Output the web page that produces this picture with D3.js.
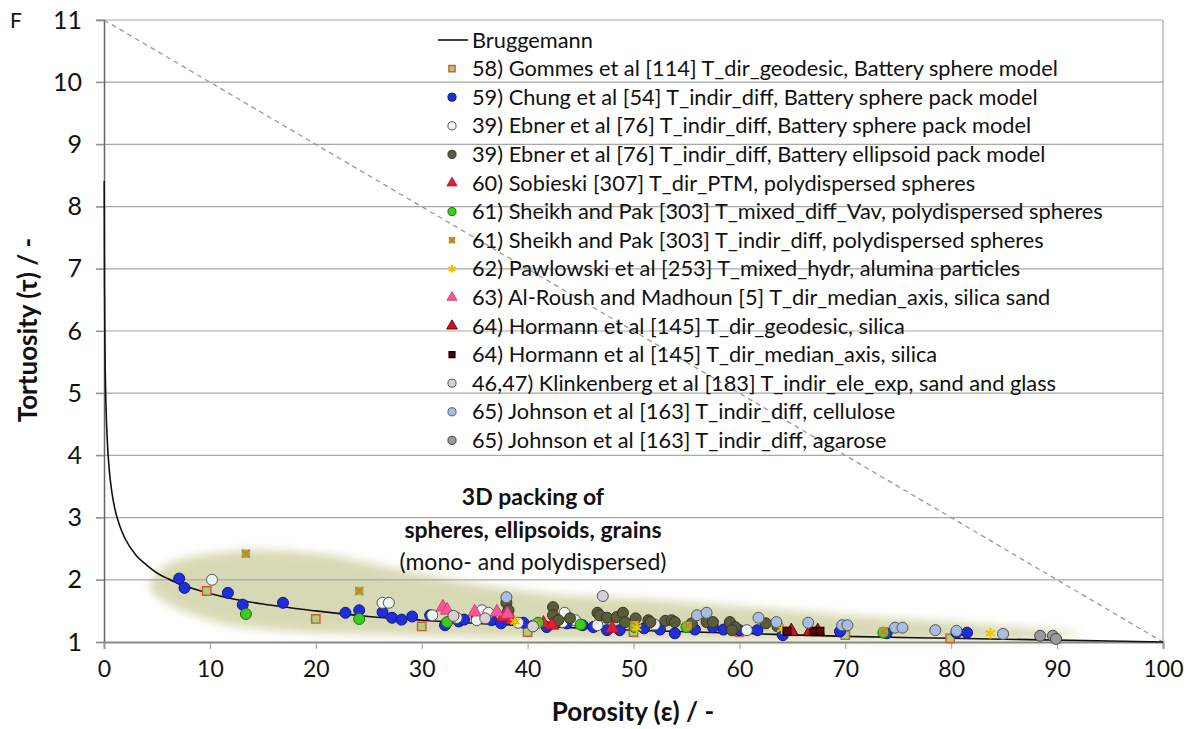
<!DOCTYPE html>
<html><head><meta charset="utf-8">
<script src="https://cdn.jsdelivr.net/npm/d3@7"></script>
<style>body{margin:0;background:#fff}svg{display:block}</style>
</head><body>
<svg id="c" width="1197" height="729"></svg>
<script>
// ---------- DATA ----------
const xTicks = [0,10,20,30,40,50,60,70,80,90,100];
const yTicks = [1,2,3,4,5,6,7,8,9,10,11];
// Bruggemann curve (porosity %, tortuosity)
const bruggemann = [[0.02,8.41],[0.05,6.69],[0.1,5.62],[0.2,4.73],[0.3,4.27],[0.5,3.76],[0.75,3.40],[1,3.16],[1.5,2.86],[2,2.66],[3,2.40],[4,2.24],[5,2.11],[6,2.02],[7,1.94],[8,1.88],[10,1.78],[12,1.70],[15,1.61],[20,1.50],[25,1.41],[30,1.35],[40,1.26],[50,1.19],[60,1.14],[70,1.09],[80,1.06],[90,1.03],[100,1.00]];
const diagonal = [[0,11],[100,1]];
// shaded region outline (porosity, tortuosity)
const region = [[4.3,1.92],[5.8,2.24],[9.1,2.40],[14.7,2.48],[21.3,2.40],[28,2.16],[35.5,1.92],[43,1.76],[51.6,1.68],[61,1.56],[70.4,1.43],[79.9,1.32],[89.3,1.19],[92.2,1.11],[84.6,1.03],[65.7,1.03],[46.8,1.03],[28,1.11],[18.5,1.16],[11.9,1.27],[7.2,1.51],[4.8,1.76]];
const annotation = ["3D packing of","spheres, ellipsoids, grains","(mono- and polydispersed)"];

const gommes = [[9.7,1.82],[20,1.37],[30,1.25],[40,1.16],[50,1.16],[60,1.16],[70,1.11],[79.9,1.06]];
const chung = [[7.1,2.02],[7.6,1.87],[11.7,1.79],[13.1,1.6],[16.9,1.63],[22.8,1.47],[24.1,1.51],[26.3,1.48],[27.2,1.39],[28.1,1.36],[29.1,1.41],[30.8,1.43],[32.2,1.27],[33.5,1.33],[34,1.36],[35.2,1.39],[36.6,1.35],[37.5,1.3],[39.6,1.31],[40.5,1.26],[41.8,1.24],[43.7,1.3],[45.2,1.27],[46.2,1.24],[47.5,1.19],[48.7,1.19],[51,1.22],[52.5,1.2],[53.9,1.14],[55.8,1.2],[57.5,1.24],[58.5,1.2],[60,1.19],[61.7,1.19],[64.1,1.11],[69.5,1.17],[73.9,1.14],[80.5,1.15],[81.5,1.15]];
const ebnerSphere = [[10.2,2.0],[26.3,1.63],[26.9,1.63],[31,1.43],[33.3,1.39],[35.2,1.35],[35.7,1.51],[36.3,1.47],[39.1,1.31],[43.3,1.32],[43.5,1.47],[44.5,1.35],[46.6,1.27],[52,1.28],[60.7,1.19]];
const ebnerEllipsoid = [[38,1.63],[38.2,1.51],[42.4,1.56],[42.4,1.43],[42.9,1.35],[44,1.38],[46.6,1.47],[46.8,1.43],[47.5,1.39],[48.4,1.40],[49,1.47],[49.2,1.32],[50.2,1.38],[51.4,1.35],[51.6,1.32],[53,1.34],[53.6,1.35],[53.9,1.32],[55.5,1.3],[56.9,1.32],[57.5,1.32],[59.1,1.32],[59.6,1.24],[59.3,1.19],[62.5,1.3],[63.6,1.25]];
const sobieski = [[37.7,1.40],[38.5,1.36],[41.5,1.30],[42.3,1.27],[48,1.22]];
const sheikhVav = [[13.4,1.45],[24.1,1.37],[32.4,1.32],[41,1.31],[45,1.28],[50.1,1.24],[55,1.24],[73.6,1.15]];
const sheikhIndir = [[13.4,2.42],[24.1,1.82],[40.8,1.29],[50.1,1.27],[55.1,1.26],[73.6,1.17]];
const pawlowski = [[38.8,1.33],[50.3,1.23],[64,1.21],[83.7,1.14]];
const alRoush = [[32,1.56],[32.4,1.51],[35,1.48],[37.1,1.48],[38.1,1.45]];
const hormannGeo = [[64.9,1.17],[66.7,1.17],[67.4,1.17]];
const hormannMed = [[64.5,1.17],[67,1.17],[67.6,1.17]];
const klinkenberg = [[33,1.42],[36,1.38],[40.5,1.25],[47.1,1.74]];
const johnsonCell = [[38,1.72],[56,1.43],[56.9,1.47],[61.8,1.39],[63.5,1.32],[66.5,1.31],[69.7,1.27],[70.2,1.27],[74.7,1.23],[75.4,1.23],[78.5,1.19],[80.5,1.18],[84.9,1.13]];
const johnsonAgar = [[88.4,1.10],[89.6,1.10],[89.9,1.05]];

const legendLabels = ["Bruggemann",
 "58) Gommes et al [114] T_dir_geodesic, Battery sphere model",
 "59) Chung et al [54] T_indir_diff, Battery sphere pack model",
 "39) Ebner et al [76] T_indir_diff, Battery sphere pack model",
 "39) Ebner et al [76] T_indir_diff, Battery ellipsoid pack model",
 "60) Sobieski [307] T_dir_PTM, polydispersed spheres",
 "61) Sheikh and Pak [303] T_mixed_diff_Vav, polydispersed spheres",
 "61) Sheikh and Pak [303] T_indir_diff, polydispersed spheres",
 "62) Pawlowski et al [253] T_mixed_hydr, alumina particles",
 "63) Al-Roush and Madhoun [5] T_dir_median_axis, silica sand",
 "64) Hormann et al [145] T_dir_geodesic, silica",
 "64) Hormann et al [145] T_dir_median_axis, silica",
 "46,47) Klinkenberg et al [183] T_indir_ele_exp, sand and glass",
 "65) Johnson et al [163] T_indir_diff, cellulose",
 "65) Johnson et al [163] T_indir_diff, agarose"];

// ---------- STYLES ----------
const series = [
 {data:gommes, sym:"square", fill:"#9fd67a", stroke:"#e0503a", size:70},
 {data:chung, sym:"circle", fill:"#1f2fd8", stroke:"#14148a", size:95},
 {data:ebnerSphere, sym:"circle", fill:"#eef4f2", stroke:"#555", size:95},
 {data:ebnerEllipsoid, sym:"circle", fill:"#5b5c3c", stroke:"#333322", size:95},
 {data:sobieski, sym:"triangle", fill:"#e0203a", stroke:"#a01020", size:80},
 {data:sheikhVav, sym:"circle", fill:"#3ecb1e", stroke:"#1d6f10", size:95},
 {data:sheikhIndir, sym:"squarex", fill:"#5ed04a", stroke:"#f07020", size:70},
 {data:pawlowski, sym:"asterisk", fill:"none", stroke:"#f2c400", size:80},
 {data:alRoush, sym:"triangle", fill:"#f45a9a", stroke:"#d03070", size:80},
 {data:hormannGeo, sym:"triangle", fill:"#d0101a", stroke:"#300000", size:90},
 {data:hormannMed, sym:"square", fill:"#600000", stroke:"#100000", size:60},
 {data:klinkenberg, sym:"circle", fill:"#d9cfd6", stroke:"#555", size:95},
 {data:johnsonCell, sym:"circle", fill:"#a9bde0", stroke:"#556", size:95},
 {data:johnsonAgar, sym:"circle", fill:"#9a9a9a", stroke:"#444", size:95}
];

const svg = d3.select("#c");
const x = d3.scaleLinear().domain([0,100]).range([104,1163]);
const y = d3.scaleLinear().domain([1,11]).range([642,20]);
const FONT = "Lato, 'Open Sans', sans-serif";

// defs
const defs = svg.append("defs");
defs.append("filter").attr("id","blur").attr("x","-20%").attr("y","-50%").attr("width","140%").attr("height","200%")
  .append("feGaussianBlur").attr("stdDeviation",5);

// shaded region
svg.append("path").datum(region)
  .attr("d", d3.line().x(d=>x(d[0])).y(d=>y(d[1])).curve(d3.curveCardinalClosed.tension(0.3)))
  .attr("fill","#c9cb98").attr("opacity",0.72).attr("filter","url(#blur)");

// gridlines
svg.append("g").selectAll("line").data(yTicks.slice(1)).join("line")
  .attr("x1",96).attr("x2",1163).attr("y1",d=>y(d)).attr("y2",d=>y(d))
  .attr("stroke","#a8a8a8").attr("stroke-width",1.2);
// right border
svg.append("line").attr("x1",1163).attr("x2",1163).attr("y1",y(11)).attr("y2",y(1)).attr("stroke","#a8a8a8").attr("stroke-width",1.2);

// axes
const yAxis = svg.append("g").attr("transform","translate(104,0)")
  .call(d3.axisLeft(y).tickValues(yTicks).tickSize(8).tickPadding(14).tickFormat(d3.format("d")));
yAxis.select(".domain").attr("stroke","#666").attr("stroke-width",1.5);
yAxis.selectAll(".tick line").attr("stroke","#888");
yAxis.selectAll("text").attr("font-family",FONT).attr("font-size",25).attr("fill","#111");
const xAxis = svg.append("g").attr("transform","translate(0,642)")
  .call(d3.axisBottom(x).tickValues(xTicks).tickSize(7).tickPadding(12).tickFormat(d3.format("d")));
xAxis.select(".domain").attr("stroke","#888").attr("stroke-width",2);
xAxis.selectAll(".tick line").attr("stroke","#999");
xAxis.selectAll("text").attr("font-family",FONT).attr("font-size",23).attr("fill","#111");

// diagonal dashed line
svg.append("path").datum(diagonal)
  .attr("d", d3.line().x(d=>x(d[0])).y(d=>y(d[1])))
  .attr("stroke","#999").attr("stroke-width",1.3).attr("stroke-dasharray","5,4").attr("fill","none");

// Bruggemann
svg.append("path").datum(bruggemann)
  .attr("d", d3.line().x(d=>x(d[0])).y(d=>y(d[1])).curve(d3.curveMonotoneX))
  .attr("stroke","#111").attr("stroke-width",1.6).attr("fill","none");

// marker drawing
function drawMarker(g, s, scale){
  const size = s.size*scale;
  if (s.sym==="circle"){
    g.append("path").attr("d", d3.symbol(d3.symbolCircle, size)()).attr("fill",s.fill).attr("stroke",s.stroke).attr("stroke-width",1);
  } else if (s.sym==="square"){
    g.append("path").attr("d", d3.symbol(d3.symbolSquare, size)()).attr("fill",s.fill).attr("stroke",s.stroke).attr("stroke-width",1.4);
  } else if (s.sym==="triangle"){
    g.append("path").attr("d", d3.symbol(d3.symbolTriangle, size)()).attr("fill",s.fill).attr("stroke",s.stroke).attr("stroke-width",0.8);
  } else if (s.sym==="squarex"){
    g.append("path").attr("d", d3.symbol(d3.symbolSquare, size)()).attr("fill",s.fill).attr("stroke","none");
    g.append("path").attr("d", d3.symbol(d3.symbolX, size*0.6)()).attr("fill","none").attr("stroke",s.stroke).attr("stroke-width",2);
  } else if (s.sym==="asterisk"){
    g.append("path").attr("d", d3.symbol(d3.symbolAsterisk, size)()).attr("fill","none").attr("stroke",s.stroke).attr("stroke-width",2);
  }
}

// points
const pts = svg.append("g");
series.forEach(s=>{
  s.data.forEach(d=>{
    const g = pts.append("g").attr("transform",`translate(${x(d[0])},${y(d[1])})`);
    drawMarker(g, s, 1);
  });
});

// annotation
svg.append("g").selectAll("text").data(annotation).join("text")
  .attr("x",533).attr("y",(d,i)=>505+i*32.5)
  .attr("text-anchor","middle").attr("font-family",FONT).attr("font-size",23)
  .attr("font-weight",(d,i)=>i<2?"bold":"normal").attr("fill","#111").text(d=>d);

// legend
const leg = svg.append("g");
const rowY = i => 40 + i*28.6;
const legText = leg.selectAll("text").data(legendLabels).join("text")
  .attr("x",472).attr("y",(d,i)=>rowY(i)).attr("dy","0.35em")
  .attr("font-family",FONT).attr("font-size",18).attr("fill","#111").text(d=>d);
// fit font size to the reference width of the Gommes row (472..1058)
const w0 = legText.nodes()[1].getComputedTextLength();
const fs = 18*586/w0;
legText.attr("font-size",fs);
leg.append("line").attr("x1",438).attr("x2",468).attr("y1",rowY(0)).attr("y2",rowY(0)).attr("stroke","#111").attr("stroke-width",1.6);
series.forEach((s,i)=>{
  const g = leg.append("g").attr("transform",`translate(452,${rowY(i+1)})`);
  drawMarker(g, s, 0.55);
});

// axis titles
svg.append("text").attr("x",633).attr("y",721).attr("text-anchor","middle")
  .attr("font-family",FONT).attr("font-size",26).attr("font-weight","bold").attr("fill","#111")
  .text("Porosity (ε) / -");
svg.append("text").attr("transform","translate(37,330) rotate(-90)").attr("text-anchor","middle")
  .attr("font-family",FONT).attr("font-size",26).attr("font-weight","bold").attr("fill","#111")
  .text("Tortuosity (τ) / -");
svg.append("text").attr("x",10).attr("y",28).attr("font-family",FONT).attr("font-size",21).attr("fill","#111").text("F");
</script>
</body></html>
